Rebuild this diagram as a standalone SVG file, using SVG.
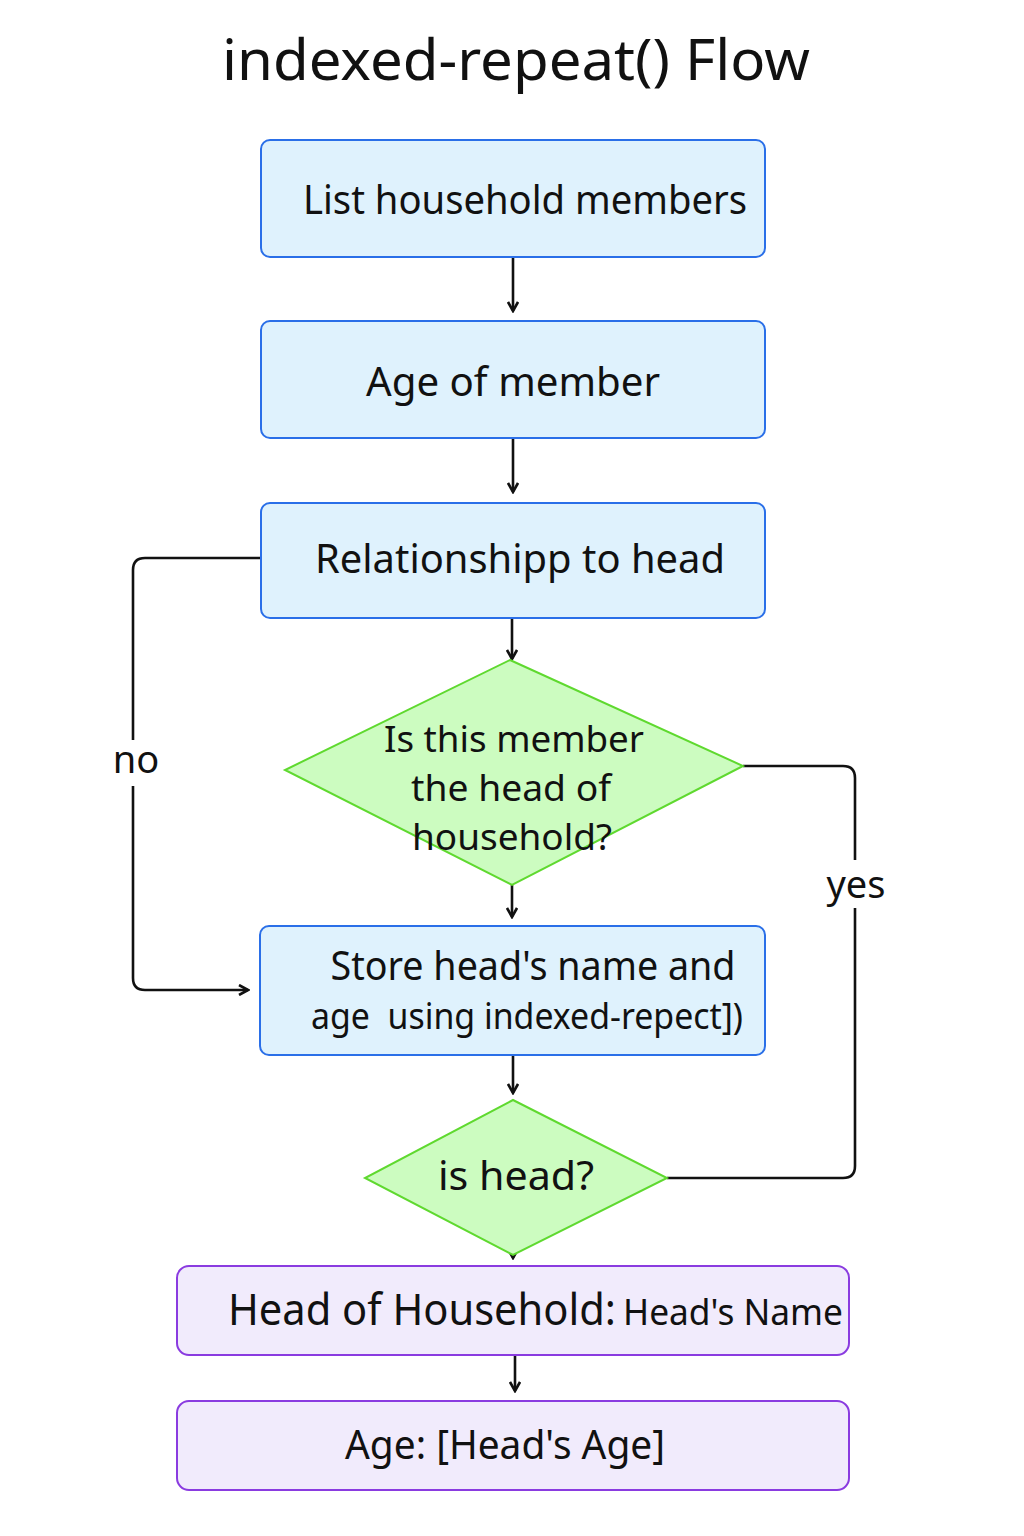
<svg xmlns="http://www.w3.org/2000/svg" width="1024" height="1536" viewBox="0 0 1024 1536">
<defs>
<style>
text{font-family:"Noto Sans","Open Sans","DejaVu Sans",sans-serif;fill:#111;}
.t{font-size:40px;text-anchor:middle;}
.td{font-size:36px;text-anchor:middle;}
.proc{fill:#dff2fd;stroke:#2a6fe8;stroke-width:2;}
.dec{fill:#ccfcc0;stroke:#5fd92f;stroke-width:2;}
.out{fill:#f1ebfc;stroke:#8a3be0;stroke-width:2;}
.c{fill:none;stroke:#111;stroke-width:2.6;}
</style>
<marker id="ah" viewBox="0 0 12 12" refX="10" refY="6" markerWidth="12" markerHeight="12" markerUnits="userSpaceOnUse" orient="auto">
<path d="M1,1 L10,6 L1,11" fill="none" stroke="#111" stroke-width="2.6"/>
</marker>
</defs>
<rect width="1024" height="1536" fill="#fff"/>
<text x="516" y="80" style="font-size:56px;text-anchor:middle" textLength="588" lengthAdjust="spacingAndGlyphs">indexed-repeat() Flow</text>

<g id="connectors">
<line class="c" x1="513" y1="257" x2="513" y2="311" marker-end="url(#ah)"/>
<line class="c" x1="513" y1="438" x2="513" y2="492" marker-end="url(#ah)"/>
<line class="c" x1="512" y1="618" x2="512" y2="659" marker-end="url(#ah)"/>
<line class="c" x1="512" y1="885" x2="512" y2="917" marker-end="url(#ah)"/>
<line class="c" x1="513" y1="1055" x2="513" y2="1093" marker-end="url(#ah)"/>
<line class="c" x1="513" y1="1248" x2="513" y2="1258" marker-end="url(#ah)"/>
<line class="c" x1="515" y1="1355" x2="515" y2="1391" marker-end="url(#ah)"/>
<path class="c" d="M261,558 H145 Q133,558 133,570 V740 M133,786 V978 Q133,990 145,990 H248" marker-end="url(#ah)"/>
<path class="c" d="M743,766 H843 Q855,766 855,778 V860 M855,908 V1166 Q855,1178 843,1178 H667"/>
<text x="136" y="773" style="font-size:38px;text-anchor:middle">no</text>
<text x="856" y="898" style="font-size:38px;text-anchor:middle">yes</text>
</g>

<g id="n1">
<rect class="proc" x="261" y="140" width="504" height="117" rx="9"/>
<text x="525" y="214" class="t" textLength="444" lengthAdjust="spacingAndGlyphs">List household members</text>
</g>
<g id="n2">
<rect class="proc" x="261" y="321" width="504" height="117" rx="9"/>
<text x="513" y="396" class="t" textLength="294" lengthAdjust="spacingAndGlyphs">Age of member</text>
</g>
<g id="n3">
<rect class="proc" x="261" y="503" width="504" height="115" rx="9"/>
<text x="520" y="573" class="t" textLength="410" lengthAdjust="spacingAndGlyphs">Relationshipp to head</text>
</g>
<g id="d1">
<polygon class="dec" points="510,660 743,766 512,885 285,770"/>
<text x="514" y="752" class="td" textLength="260" lengthAdjust="spacingAndGlyphs">Is this member</text>
<text x="511" y="801" class="td" textLength="200" lengthAdjust="spacingAndGlyphs">the head of</text>
<text x="512" y="850" class="td" textLength="200" lengthAdjust="spacingAndGlyphs">household?</text>
</g>
<g id="n4">
<rect class="proc" x="260" y="926" width="505" height="129" rx="9"/>
<text x="533" y="980" class="t" textLength="405" lengthAdjust="spacingAndGlyphs">Store head's name and</text>
<text x="527" y="1029" style="font-size:36px;text-anchor:middle;white-space:pre" xml:space="preserve" textLength="432" lengthAdjust="spacingAndGlyphs">age  using indexed-repect])</text>
</g>
<g id="d2">
<polygon class="dec" points="513,1100 667,1178 513,1255 365,1178"/>
<text x="516" y="1190" class="t" textLength="156" lengthAdjust="spacingAndGlyphs">is head?</text>
</g>
<g id="n5">
<rect class="out" x="177" y="1266" width="672" height="89" rx="12"/>
<text x="228" y="1325" style="font-size:44px" textLength="388" lengthAdjust="spacingAndGlyphs">Head of Household:</text>
<text x="623" y="1325" style="font-size:36px" textLength="220" lengthAdjust="spacingAndGlyphs">Head's Name</text>
</g>
<g id="n6">
<rect class="out" x="177" y="1401" width="672" height="89" rx="12"/>
<text x="505" y="1459" class="t" textLength="320" lengthAdjust="spacingAndGlyphs">Age: [Head's Age]</text>
</g>
</svg>
